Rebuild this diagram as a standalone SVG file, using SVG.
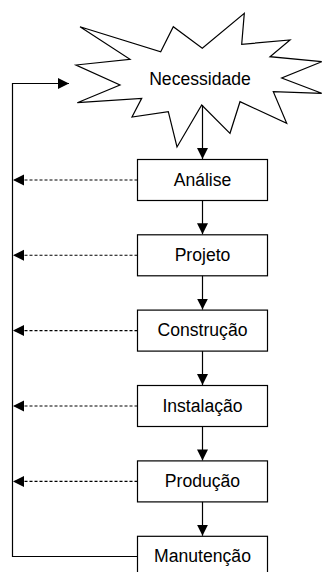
<svg xmlns="http://www.w3.org/2000/svg" width="323" height="572" viewBox="0 0 323 572">
<style>
.box{fill:#fff;stroke:#000;stroke-width:1.2}
.lbl{font-family:"Liberation Sans",Arial,sans-serif;font-size:17.6px;fill:#000;text-anchor:middle}
.ln{fill:none;stroke:#000;stroke-width:1.2}
.dash{fill:none;stroke:#000;stroke-width:1.1;stroke-dasharray:3 2}
</style>
<defs>
<marker id="ah" markerUnits="userSpaceOnUse" markerWidth="12" markerHeight="12" viewBox="0 0 12 12" refX="11" refY="6" orient="auto">
<path d="M0,0.5 L11,6 L0,11.5 Z" fill="#000"/>
</marker>
</defs>
<g id="necessidade">
<polygon class="box" points="80,26.7 160.7,51.7 173.3,26.7 202.3,48.3 244.3,13.3 241.7,44.3 290,40 270,56.7 321.7,61.7 281.7,78 321.7,93.3 273.3,91.7 286.7,123.3 240,101.7 230,133.3 201.7,105 177,147 168.3,111.7 132,117 141.7,98.3 77.3,102.7 120,85 76,65 130,59.3"/>
<text class="lbl" x="200" y="85">Necessidade</text>
</g>
<g id="analise"><rect class="box" x="137.5" y="159.5" width="130" height="41"/><text class="lbl" x="202.5" y="185.5">Análise</text></g>
<g id="projeto"><rect class="box" x="137.5" y="234.8" width="130" height="41"/><text class="lbl" x="202.5" y="260.8">Projeto</text></g>
<g id="construcao"><rect class="box" x="137.5" y="310.1" width="130" height="41"/><text class="lbl" x="202.5" y="336.1">Construção</text></g>
<g id="instalacao"><rect class="box" x="137.5" y="385.5" width="130" height="41"/><text class="lbl" x="202.5" y="411.5">Instalação</text></g>
<g id="producao"><rect class="box" x="137.5" y="460.9" width="130" height="41"/><text class="lbl" x="202.5" y="486.9">Produção</text></g>
<g id="manutencao"><rect class="box" x="137.5" y="536.3" width="130" height="41"/><text class="lbl" x="202.5" y="562.3">Manutenção</text></g>
<g id="connectors">
<path class="ln" d="M202.5,105 V159" marker-end="url(#ah)"/>
<path class="ln" d="M202.5,200.5 V234.3" marker-end="url(#ah)"/>
<path class="ln" d="M202.5,275.8 V309.6" marker-end="url(#ah)"/>
<path class="ln" d="M202.5,351.1 V385" marker-end="url(#ah)"/>
<path class="ln" d="M202.5,426.5 V460.4" marker-end="url(#ah)"/>
<path class="ln" d="M202.5,501.9 V535.8" marker-end="url(#ah)"/>
<path class="dash" d="M137.5,180 H13" marker-end="url(#ah)"/>
<path class="dash" d="M137.5,255.3 H13" marker-end="url(#ah)"/>
<path class="dash" d="M137.5,330.6 H13" marker-end="url(#ah)"/>
<path class="dash" d="M137.5,406 H13" marker-end="url(#ah)"/>
<path class="dash" d="M137.5,481.4 H13" marker-end="url(#ah)"/>
<path class="ln" d="M137.5,556.5 H12.5 V83.5 H69" marker-end="url(#ah)"/>
</g>
</svg>
